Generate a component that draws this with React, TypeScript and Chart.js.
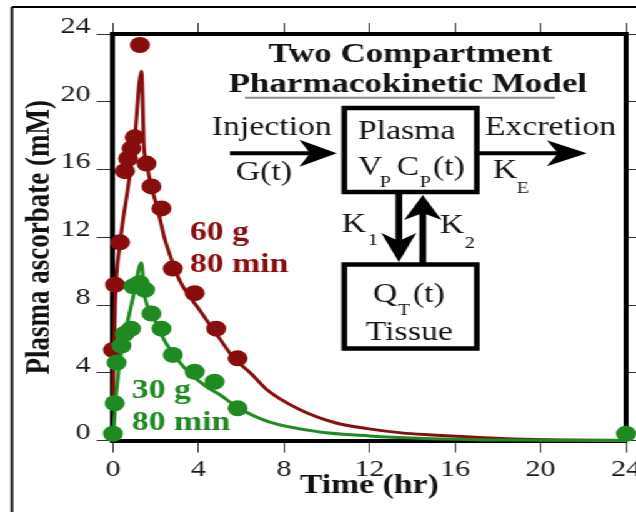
import React, { useEffect, useRef } from "react";
import { Chart, registerables } from "chart.js";

Chart.register(...registerables);

// ---- data (hours, mM) ----
const redDotTime = [0, 0.1, 0.33, 0.56, 0.71, 0.87, 1.02, 1.26, 1.57, 1.8, 2.27, 2.8, 3.82, 4.83, 5.83];
const redDotConc = [5.35, 9.2, 11.7, 15.9, 16.65, 17.25, 17.9, 23.35, 16.35, 15.0, 13.7, 10.15, 8.7, 6.6, 4.85];

const redFitTime = [0, 0.1, 0.33, 0.7, 1.0, 1.33, 1.45, 1.6, 1.8, 2.1, 2.4, 2.65, 3.1, 4.05, 5.0, 5.6, 6.5, 7.2, 8.7, 10.4, 11.9, 13.5, 14.9, 16.5, 18.8, 21, 24];
const redFitConc = [2.0, 8.0, 11.6, 14.9, 17.6, 21.8, 17.4, 16.2, 15.0, 13.6, 12.0, 11.0, 9.5, 7.7, 6.0, 4.95, 3.9, 3.0, 1.85, 1.05, 0.7, 0.45, 0.33, 0.22, 0.09, 0.03, 0.0];

const greenDotTime = [0, 0.08, 0.17, 0.4, 0.55, 0.85, 0.95, 1.25, 1.5, 1.8, 2.27, 2.8, 3.82, 4.75, 5.83, 24];
const greenDotConc = [0.4, 2.2, 4.6, 5.6, 6.3, 6.6, 9.1, 9.3, 8.9, 7.5, 6.6, 5.05, 4.06, 3.47, 1.9, 0.4];

const greenFitTime = [0, 0.17, 0.4, 0.7, 1.0, 1.33, 1.45, 1.9, 2.5, 3.3, 4.4, 5.0, 5.9, 7.3, 9.6, 12, 14.3, 17, 20, 24];
const greenFitConc = [0, 3.0, 5.3, 7.1, 8.8, 10.5, 8.8, 7.3, 5.7, 4.35, 3.15, 2.7, 1.9, 1.1, 0.52, 0.27, 0.13, 0.05, 0.02, 0];

const xMin = 0, xMax = 24, xStep = 4;
const yMin = 0, yMax = 24, yStep = 4;

const xTitle = "Time (hr)";
const yTitle = "Plasma ascorbate (mM)";

const RED = "#8a0d0d";
const GREEN = "#1f8a22";
const SERIF = '"Liberation Serif", "Times New Roman", serif';

const W = 509;
const H = 512;
const STRETCH = 636 / W;

const toXY = (xs: number[], ys: number[]) => xs.map((x, i) => ({ x, y: ys[i] }));

function arrowHead(ctx: CanvasRenderingContext2D, tx: number, ty: number, dx: number, dy: number, L: number, Hw: number) {
  // dx,dy unit direction of arrow
  const px = -dy, py = dx;
  const bx = tx - dx * L, by = ty - dy * L;
  const nx = tx - dx * L * 0.72, ny = ty - dy * L * 0.72;
  ctx.beginPath();
  ctx.moveTo(tx, ty);
  ctx.lineTo(bx + px * Hw, by + py * Hw);
  ctx.lineTo(nx, ny);
  ctx.lineTo(bx - px * Hw, by - py * Hw);
  ctx.closePath();
  ctx.fill();
}

const diagramPlugin = {
  id: "diagram",
  afterDraw(chart: any) {
    const ctx: CanvasRenderingContext2D = chart.ctx;
    ctx.save();
    // outer frame (top + left)
    ctx.strokeStyle = "#000";
    ctx.lineWidth = 2;
    ctx.beginPath();
    ctx.moveTo(9.6, 7);
    ctx.lineTo(chart.width, 7);
    ctx.moveTo(9.6, 7);
    ctx.lineTo(9.6, chart.height);
    ctx.stroke();

    const txt = (s: string, x: number, y: number, font: string, color: string, align: CanvasTextAlign = "left") => {
      ctx.font = font;
      ctx.fillStyle = color;
      ctx.textAlign = align;
      ctx.textBaseline = "alphabetic";
      ctx.fillText(s, x, y);
    };
    const big = `27px ${SERIF}`;
    const sub = `16px ${SERIF}`;
    const ink = "#141414";

    // title
    txt("Two Compartment", 328.4, 62, `bold 28px ${SERIF}`, ink, "center");
    txt("Pharmacokinetic Model", 326.4, 92, `bold 28px ${SERIF}`, ink, "center");
    ctx.strokeStyle = "#8a8a8a";
    ctx.lineWidth = 2;
    ctx.beginPath();
    ctx.moveTo(196, 97.7);
    ctx.lineTo(444, 97.7);
    ctx.stroke();

    // boxes
    ctx.strokeStyle = "#000";
    ctx.lineWidth = 4.5;
    ctx.strokeRect(275.6, 108, 106, 84);
    ctx.strokeRect(275.6, 264.5, 106, 84);

    // injection
    txt("Injection", 169.6, 135, big, ink);
    txt("G(t)", 211.2, 180, big, ink, "center");
    ctx.fillStyle = "#000";
    ctx.lineWidth = 4;
    ctx.beginPath();
    ctx.moveTo(184, 153.3);
    ctx.lineTo(250, 153.3);
    ctx.stroke();
    arrowHead(ctx, 269.6, 153.3, 1, 0, 30, 13.5);

    // plasma
    txt("Plasma", 325.6, 139, big, ink, "center");
    txt("V", 286.4, 175, big, ink);
    txt("P", 304, 187, sub, ink);
    txt("C", 317.6, 175, big, ink);
    txt("P", 336, 187, sub, ink);
    txt("(t)", 346.4, 175, big, ink);

    // excretion
    txt("Excretion", 388, 135, big, ink);
    ctx.fillStyle = "#000";
    ctx.strokeStyle = "#000";
    ctx.lineWidth = 4;
    ctx.beginPath();
    ctx.moveTo(381.6, 153.3);
    ctx.lineTo(450, 153.3);
    ctx.stroke();
    arrowHead(ctx, 469.6, 153.3, 1, 0, 32, 13);
    txt("K", 394.4, 178, big, ink);
    txt("E", 413.6, 193, sub, ink);

    // exchange arrows
    ctx.fillStyle = "#000";
    ctx.strokeStyle = "#000";
    ctx.lineWidth = 5.5;
    ctx.beginPath();
    ctx.moveTo(319.2, 192);
    ctx.lineTo(319.2, 242);
    ctx.stroke();
    arrowHead(ctx, 319.2, 262, 0, 1, 29, 14);
    ctx.beginPath();
    ctx.moveTo(338.4, 264);
    ctx.lineTo(338.4, 212);
    ctx.stroke();
    arrowHead(ctx, 338.4, 195, 0, -1, 25, 15);
    txt("K", 273.6, 232, big, ink);
    txt("1", 294.4, 245, sub, ink);
    txt("K", 352, 233, big, ink);
    txt("2", 372, 248, sub, ink);

    // tissue
    txt("Q", 298.4, 302, big, ink);
    txt("T", 318.4, 315, sub, ink);
    txt("(t)", 330.4, 302, big, ink);
    txt("Tissue", 327.6, 340, big, ink, "center");

    // dose labels
    const lab = `bold 27px ${SERIF}`;
    txt("60 g", 152, 240, lab, RED);
    txt("80 min", 152, 272, lab, RED);
    txt("30 g", 105.6, 398, lab, GREEN);
    txt("80 min", 105.6, 430, lab, GREEN);

    ctx.restore();
  },
};

export default function App() {
  const ref = useRef<HTMLCanvasElement | null>(null);

  useEffect(() => {
    if (!ref.current) return;
    const tickFont = { family: SERIF, size: 24 };
    const titleFont = { family: SERIF, size: 27, weight: "bold" as const };
    const grid = {
      drawOnChartArea: false,
      drawTicks: true,
      tickColor: "#333",
      tickWidth: 1,
    };
    const border = { display: true, color: "#000", width: 4 };

    const chart = new Chart(ref.current, {
      type: "line",
      data: {
        datasets: [
          {
            label: "30 g points",
            data: toXY(greenDotTime, greenDotConc),
            showLine: false,
            pointRadius: 8,
            pointHoverRadius: 8,
            pointBackgroundColor: GREEN,
            pointBorderColor: GREEN,
            pointBorderWidth: 0,
            order: 0,
            clip: 12,
          },
          {
            label: "30 g fit",
            data: toXY(greenFitTime, greenFitConc),
            borderColor: GREEN,
            borderWidth: 3,
            pointRadius: 0,
            cubicInterpolationMode: "monotone",
            order: 1,
            clip: 12,
          },
          {
            label: "60 g points",
            data: toXY(redDotTime, redDotConc),
            showLine: false,
            pointRadius: 8,
            pointHoverRadius: 8,
            pointBackgroundColor: RED,
            pointBorderColor: RED,
            pointBorderWidth: 0,
            order: 2,
            clip: 12,
          },
          {
            label: "60 g fit",
            data: toXY(redFitTime, redFitConc),
            borderColor: RED,
            borderWidth: 3,
            pointRadius: 0,
            cubicInterpolationMode: "monotone",
            order: 3,
            clip: 12,
          },
        ],
      },
      options: {
        animation: false,
        responsive: false,
        devicePixelRatio: 1,
        layout: { padding: 0 },
        plugins: { legend: { display: false }, tooltip: { enabled: false } },
        scales: {
          x: {
            type: "linear",
            position: "bottom",
            min: xMin,
            max: xMax,
            ticks: { stepSize: xStep, font: tickFont, color: "#1a1a1a", padding: 3, maxRotation: 0 },
            grid: { ...grid, tickLength: 12 },
            border,
            title: { display: true, text: xTitle, font: titleFont, color: "#111", padding: { top: 0, bottom: 10 } },
            afterFit: (s: any) => {
              s.height = H - 440.5;
              s.paddingLeft = 0;
              s.paddingRight = 0;
            },
          },
          x2: {
            type: "linear",
            position: "top",
            min: xMin,
            max: xMax,
            ticks: { stepSize: xStep, display: false },
            grid: { ...grid, tickLength: 11 },
            border,
            afterFit: (s: any) => {
              s.height = 34;
              s.paddingLeft = 0;
              s.paddingRight = 0;
            },
          },
          y: {
            type: "linear",
            position: "left",
            min: yMin,
            max: yMax,
            ticks: { stepSize: yStep, font: tickFont, color: "#1a1a1a", padding: 5, labelOffset: -7.5 },
            grid: { ...grid, tickLength: 13 },
            border,
            title: { display: true, text: yTitle, font: titleFont, color: "#111", padding: { top: 16, bottom: 0 } },
            afterFit: (s: any) => {
              s.width = 90.4;
              s.paddingTop = 0;
              s.paddingBottom = 0;
            },
          },
          y2: {
            type: "linear",
            position: "right",
            min: yMin,
            max: yMax,
            ticks: { stepSize: yStep, display: false },
            grid: { ...grid, tickLength: 10 },
            border,
            afterFit: (s: any) => {
              s.width = W - 502.4;
              s.paddingTop = 0;
              s.paddingBottom = 0;
            },
          },
        },
      } as any,
      plugins: [diagramPlugin],
    });
    return () => chart.destroy();
  }, []);

  return (
    <div
      style={{
        position: "absolute",
        left: 0,
        top: 0,
        width: W,
        height: H,
        background: "#fff",
        transform: `scaleX(${STRETCH})`,
        transformOrigin: "0 0",
        overflow: "hidden",
      }}
    >
      <canvas ref={ref} width={W} height={H} style={{ display: "block" }} />
    </div>
  );
}
